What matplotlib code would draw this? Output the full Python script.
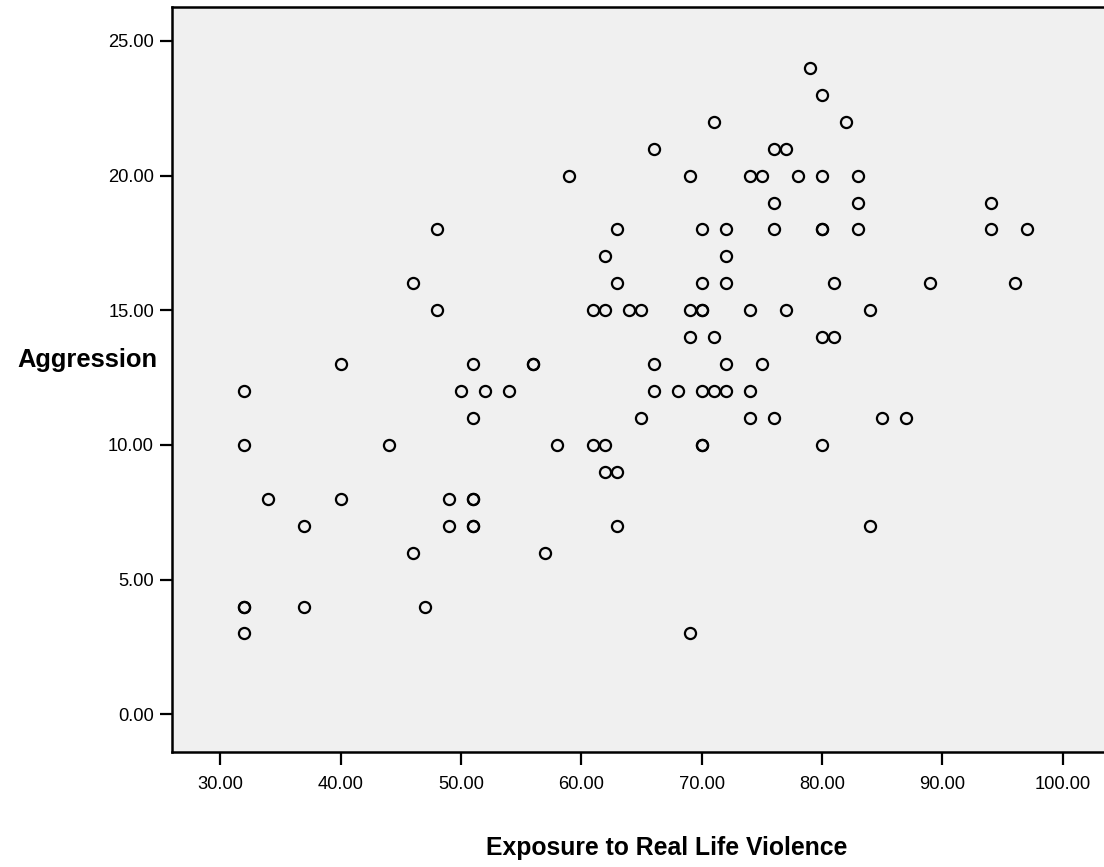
import matplotlib
matplotlib.use('Agg')
import matplotlib.pyplot as plt
from matplotlib.ticker import FormatStrFormatter

# exposure to real life violence (x) and aggression (y), one entry per case
exposure = [32, 32, 32, 32, 32, 34, 37, 37, 40, 40, 44, 46, 46, 47, 48, 48,
            49, 49, 50, 51, 51, 51, 51, 51, 51, 52, 54, 56, 56, 57, 58, 59,
            61, 61, 62, 62, 62, 62, 63, 63, 63, 63, 64, 65, 65, 66, 66, 66,
            68, 69, 69, 69, 69, 70, 70, 70, 70, 70, 70, 70, 71, 71, 71,
            72, 72, 72, 72, 72, 74, 74, 74, 74, 75, 75, 76, 76, 76, 76,
            77, 77, 78, 79, 80, 80, 80, 80, 80, 80, 81, 81, 82, 83, 83, 83,
            84, 84, 85, 87, 89, 94, 94, 96, 97]
aggression = [12, 10, 4, 4, 3, 8, 7, 4, 13, 8, 10, 16, 6, 4, 18, 15,
              8, 7, 12, 13, 11, 8, 8, 7, 7, 12, 12, 13, 13, 6, 10, 20,
              15, 10, 17, 15, 10, 9, 18, 16, 9, 7, 15, 15, 11, 21, 13, 12,
              12, 20, 15, 14, 3, 18, 16, 15, 15, 12, 10, 10, 22, 14, 12,
              18, 17, 16, 13, 12, 20, 15, 12, 11, 20, 13, 21, 19, 18, 11,
              21, 15, 20, 24, 23, 20, 18, 18, 14, 10, 16, 14, 22, 20, 19, 18,
              15, 7, 11, 11, 16, 19, 18, 16, 18]

x_ticks = [30, 40, 50, 60, 70, 80, 90, 100]
y_ticks = [0, 5, 10, 15, 20, 25]

plt.rcParams['font.family'] = ['Liberation Sans', 'DejaVu Sans']

fig = plt.figure(figsize=(11.04, 8.67), dpi=100)
ax = fig.add_axes([172 / 1104, 115 / 867, 1 - 172 / 1104, 745 / 867])
ax.set_facecolor('#f0f0f0')

ax.plot(exposure, aggression, 'o', markersize=8, markerfacecolor='none',
        markeredgecolor='black', markeredgewidth=1.6)

ax.set_xlim(26.0, 103.42)
ax.set_ylim(-1.40, 26.26)
ax.set_xticks(x_ticks)
ax.set_yticks(y_ticks)
ax.xaxis.set_major_formatter(FormatStrFormatter('%.2f'))
ax.yaxis.set_major_formatter(FormatStrFormatter('%.2f'))
ax.tick_params(axis='both', direction='out', length=9, width=1.6,
               labelsize=13.2, colors='black')
ax.tick_params(axis='x', pad=8)
ax.tick_params(axis='y', pad=4)

for side in ['left', 'bottom', 'top']:
    ax.spines[side].set_linewidth(1.8)
ax.spines['right'].set_visible(False)

fig.text(87 / 1104, (867 - 367) / 867, 'Aggression', fontsize=18.4,
         fontweight='bold', ha='center', va='baseline')
fig.text(667 / 1104, (867 - 855) / 867, 'Exposure to Real Life Violence',
         fontsize=17.8, fontweight='bold', ha='center', va='baseline')

fig.savefig('out.png', dpi=100)
